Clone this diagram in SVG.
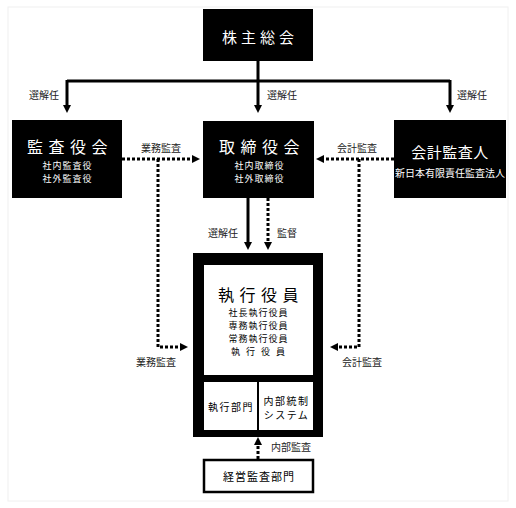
<svg xmlns="http://www.w3.org/2000/svg" width="516" height="508" viewBox="0 0 516 508">
<defs>
<marker id="ah" viewBox="0 0 8 8" refX="2" refY="4" markerWidth="8" markerHeight="8" markerUnits="userSpaceOnUse" orient="auto">
<path d="M0,0 L8,4 L0,8 z" fill="#000"/>
</marker>
<style>
text{font-family:"Noto Sans CJK JP","Noto Sans",sans-serif;text-anchor:middle}
.box{fill:#000}
.w{fill:#fff}
.t{font-size:16px;letter-spacing:5.5px}
.s{font-size:9px;letter-spacing:1px}
.lbl{fill:#222;font-size:10px}
.solid{fill:none;stroke:#000;stroke-width:3}
.dot{fill:none;stroke:#000;stroke-width:3;stroke-dasharray:3 2}
.arr{marker-end:url(#ah)}
.dk{fill:#000;font-size:10px;letter-spacing:1.5px}
</style>
</defs>
<rect x="0" y="0" width="516" height="508" fill="#fff"/>
<rect x="8" y="7" width="500" height="494" fill="none" stroke="#f0f0f0" stroke-width="1"/>

<g id="connectors">
<path class="solid" d="M258,61 V81 M67,81 H450"/>
<path class="solid arr" d="M67,80 V107"/>
<path class="solid arr" d="M258,81 V107"/>
<path class="solid arr" d="M450,80 V107"/>
<path class="dot arr" d="M122,159 H194"/>
<path class="dot arr" d="M158,159 V347 H182"/>
<path class="dot arr" d="M394,159 H322"/>
<path class="dot arr" d="M359,159 V347 H336"/>
<path class="solid arr" d="M248,198 V244"/>
<path class="dot arr" d="M268,198 V244"/>
<path class="dot arr" d="M258,459 V443"/>
<text class="lbl" x="44" y="99">選解任</text>
<text class="lbl" x="282" y="99">選解任</text>
<text class="lbl" x="472" y="99">選解任</text>
<text class="lbl" x="161" y="152">業務監査</text>
<text class="lbl" x="357" y="152">会計監査</text>
<text class="lbl" x="223" y="237">選解任</text>
<text class="lbl" x="287" y="237">監督</text>
<text class="lbl" x="156" y="366">業務監査</text>
<text class="lbl" x="362" y="366">会計監査</text>
<text class="lbl" x="291" y="451">内部監査</text>
</g>

<g id="shareholders">
<rect class="box" x="203" y="9" width="110" height="52"/>
<text class="w" x="260" y="43" style="font-size:15px;letter-spacing:4px">株主総会</text>
</g>

<g id="kansayakukai">
<rect class="box" x="12" y="120" width="110" height="78"/>
<text class="w"><tspan class="t" x="70" y="153">監査役会</tspan><tspan class="s" x="67.5" y="168.5">社内監査役</tspan><tspan class="s" x="67.5" y="181.5">社外監査役</tspan></text>
</g>

<g id="torishimariyakukai">
<rect class="box" x="203" y="121" width="111" height="77"/>
<text class="w"><tspan class="t" x="262" y="153">取締役会</tspan><tspan class="s" x="259.5" y="168.5">社内取締役</tspan><tspan class="s" x="259.5" y="181.5">社外取締役</tspan></text>
</g>

<g id="kaikeikansanin">
<rect class="box" x="394" y="120" width="112" height="78"/>
<text class="w"><tspan x="450" y="158" style="font-size:15px;letter-spacing:0.5px">会計監査人</tspan><tspan x="450" y="177" style="font-size:10px">新日本有限責任監査法人</tspan></text>
</g>

<g id="shikkoyakuin">
<rect class="box" x="193" y="253" width="130" height="184"/>
<rect x="204" y="265" width="109" height="110" fill="#fff"/>
<rect x="204" y="382" width="53" height="48" fill="#fff"/>
<rect x="259" y="382" width="54" height="48" fill="#fff"/>
<text fill="#000"><tspan class="t" x="261" y="301">執行役員</tspan><tspan class="s" x="258.5" y="316">社長執行役員</tspan><tspan class="s" x="258.5" y="329">専務執行役員</tspan><tspan class="s" x="258.5" y="342">常務執行役員</tspan><tspan class="s" x="261" y="355" style="letter-spacing:6px">執行役員</tspan></text>
<text class="dk" x="231" y="411">執行部門</text>
<text class="dk"><tspan x="286.5" y="404.5">内部統制</tspan><tspan x="286.5" y="419">システム</tspan></text>
</g>

<g id="keieikansabumon">
<rect x="204" y="460" width="109" height="32" fill="#fff" stroke="#000" stroke-width="2.5"/>
<text class="dk" x="259" y="481" style="font-size:11px;letter-spacing:1px">経営監査部門</text>
</g>
</svg>
